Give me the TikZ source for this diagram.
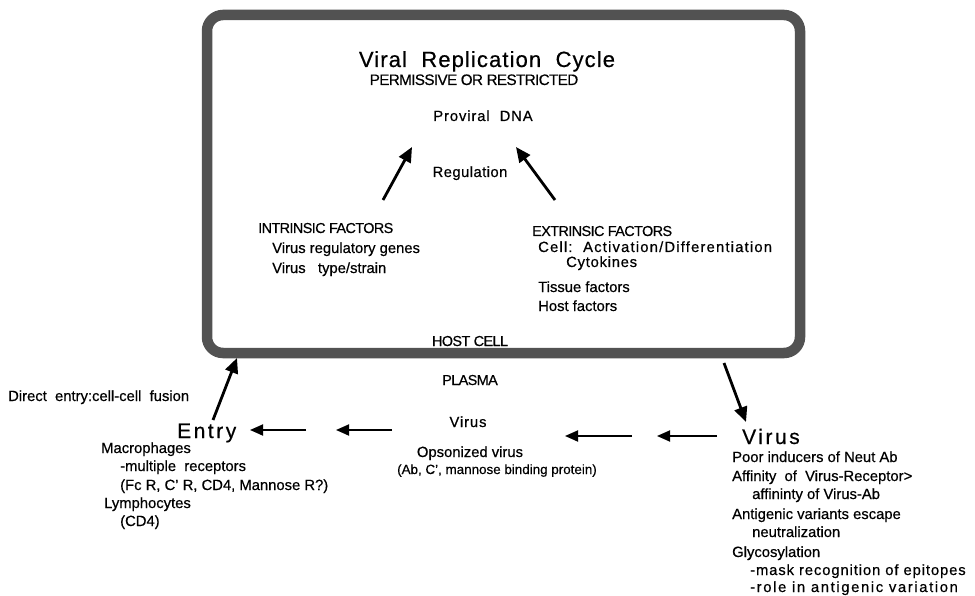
\documentclass[tikz,border=0pt]{standalone}
\usepackage{fontspec}
\setmainfont{Liberation Sans}[FakeBold=0.5]
\usetikzlibrary{arrows.meta}
\newcommand{\bodysize}{\fontsize{14.8}{17}\selectfont}
\tikzset{
  txt/.style={inner sep=0pt, anchor=base west, font=\bodysize},
  ctxt/.style={txt, anchor=base},
  ls/.style={font=\bodysize\addfontfeature{LetterSpace=#1}},
  caps/.style={inner sep=0pt, anchor=base, font=\fontsize{14.4}{16}\selectfont\addfontfeature{LetterSpace=-4}},
  capsw/.style={caps, anchor=base west},
  big/.style={inner sep=0pt, anchor=base west, font=\fontsize{21}{24}\selectfont\addfontfeature{LetterSpace=12}},
  arr/.style={line width=2.8pt, -{Triangle[length=15pt,width=13pt]}},
  harr/.style={line width=1.8pt, -{Triangle[length=13pt,width=11pt]}},
  cellwall/.style={line width=10.5pt, draw=black!68, rounded corners=16pt}
}
\begin{document}
\begin{tikzpicture}[x=1pt,y=-1pt]
\useasboundingbox (0,0) rectangle (975,596);
% host cell
\draw[cellwall] (207,15) rectangle (800,353);
% texts inside
\node[inner sep=0pt, anchor=base, font=\fontsize{22}{26}\selectfont\addfontfeature{LetterSpace=5}] (title) at (487,67) {Viral\ \ Replication\ \ Cycle};
\node[caps, font=\fontsize{15.2}{17}\selectfont\addfontfeature{LetterSpace=-4}] (perm) at (474,85) {PERMISSIVE OR RESTRICTED};
\node[ctxt, ls=6] (dna) at (483,121) {Proviral\ \ DNA};
\node[ctxt, ls=3] (reg) at (470,177) {Regulation};
\node[capsw] (intr) at (258,233) {INTRINSIC FACTORS};
\node[txt] (vrg) at (272,253) {Virus regulatory genes};
\node[txt] (vts) at (272,273) {Virus\ \ \ type/strain};
\node[capsw] (extr) at (532,236) {EXTRINSIC FACTORS};
\node[txt, ls=8] (cell) at (538,252) {Cell:\ \ Activation/Differentiation};
\node[txt, ls=5] (cyto) at (566,267) {Cytokines};
\node[txt] (tiss) at (538,292) {Tissue factors};
\node[txt] (host) at (538,311) {Host factors};
\node[caps] (hc) at (470,346) {HOST CELL};
\node[caps] (plasma) at (470,385) {PLASMA};
% regulation arrows
\coordinate (rl0) at (383,200); \coordinate (rl1) at (412,147);
\coordinate (rr0) at (555,200); \coordinate (rr1) at (516,147);
\draw[arr] (rl0) -- (rl1);
\draw[arr] (rr0) -- (rr1);
% outside texts
\node[txt] (direct) at (8,401) {Direct\ \ entry:cell-cell\ \ fusion};
\node[big] (entry) at (177,438) {Entry};
\node[txt] (mac) at (101,453) {Macrophages};
\node[txt] (mult) at (120,471) {-multiple\ \ receptors};
\node[txt] (fc) at (120,490) {(Fc R, C' R, CD4, Mannose R?)};
\node[txt] (lym) at (104,508) {Lymphocytes};
\node[txt] (cd4) at (120,526) {(CD4)};
\node[ctxt, ls=6] (vmid) at (468,427) {Virus};
\node[ctxt] (ops) at (470,457) {Opsonized virus};
\node[inner sep=0pt, anchor=base, font=\fontsize{13.4}{15}\selectfont] (ab) at (497,474) {(Ab, C', mannose binding protein)};
\node[big] (vright) at (742,444) {Virus};
\node[txt] (poor) at (732,462) {Poor inducers of Neut Ab};
\node[txt] (aff) at (732,481) {Affinity\ \ of\ \ Virus-Receptor>};
\node[txt] (aff2) at (752,499) {affininty of Virus-Ab};
\node[txt] (anti) at (732,519) {Antigenic variants escape};
\node[txt] (neut) at (752,537) {neutralization};
\node[txt] (gly) at (732,557) {Glycosylation};
\node[txt, ls=6] (mask) at (750,575) {-mask recognition of epitopes};
\node[txt, ls=11] (role) at (750,592) {-role in antigenic variation};
% connectors
\coordinate (e0) at (213,420); \coordinate (e1) at (237,358);
\draw[arr] (e0) -- (e1);
\coordinate (v0) at (724,363); \coordinate (v1) at (746,422);
\draw[arr] (v0) -- (v1);
\coordinate (h1a) at (306,430); \coordinate (h1b) at (250,430);
\coordinate (h2a) at (392,430); \coordinate (h2b) at (336,430);
\coordinate (h3a) at (632,436); \coordinate (h3b) at (565,436);
\coordinate (h4a) at (717,436); \coordinate (h4b) at (657,436);
\draw[harr] (h1a) -- (h1b);
\draw[harr] (h2a) -- (h2b);
\draw[harr] (h3a) -- (h3b);
\draw[harr] (h4a) -- (h4b);
\end{tikzpicture}
\end{document}
